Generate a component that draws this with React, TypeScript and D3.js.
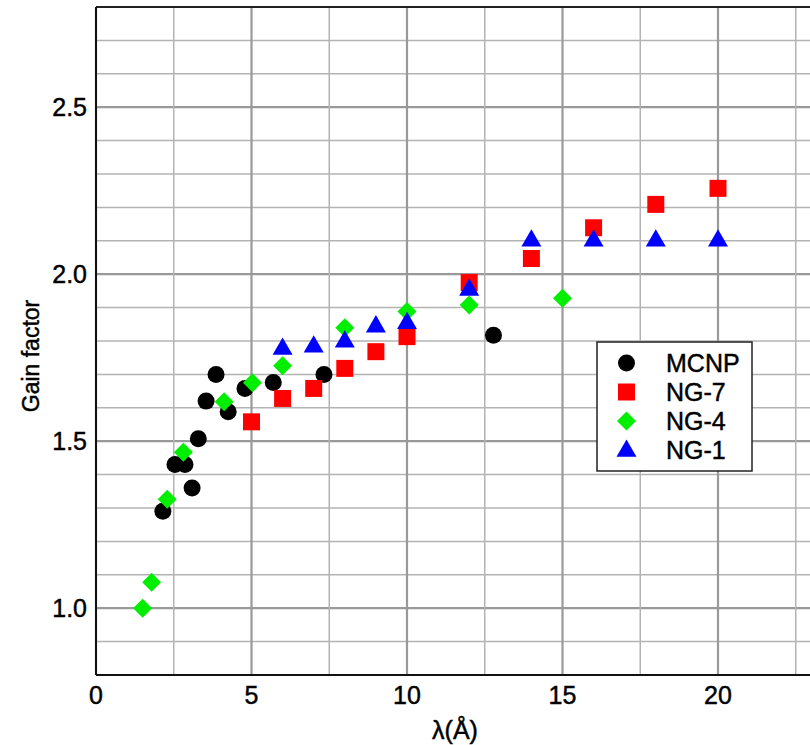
import React from "react";
import * as d3 from "d3";

const mcnpX = [2.15, 2.54, 2.86, 3.09, 3.29, 3.54, 3.86, 4.25, 4.79, 5.7, 7.33, 12.78];
const mcnpY = [1.29, 1.43, 1.43, 1.36, 1.507, 1.62, 1.70, 1.588, 1.658, 1.676, 1.70, 1.817];

const ng7X = [5, 6, 7, 8, 9, 10, 12, 14, 16, 18, 20];
const ng7Y = [1.558, 1.628, 1.658, 1.718, 1.768, 1.813, 1.975, 2.047, 2.139, 2.209, 2.257];

const ng4X = [1.5, 1.79, 2.29, 2.81, 4.12, 5.03, 6.0, 8.0, 10.0, 12.0, 15.0];
const ng4Y = [1.0, 1.078, 1.326, 1.467, 1.618, 1.675, 1.726, 1.84, 1.888, 1.908, 1.928];

const ng1X = [6, 7, 8, 9, 10, 12, 14, 16, 18, 20];
const ng1Y = [1.776, 1.783, 1.798, 1.843, 1.853, 1.953, 2.10, 2.10, 2.10, 2.10];

const xTicks = [0, 5, 10, 15, 20];
const yTicks = [1.0, 1.5, 2.0, 2.5];

const W = 810;
const H = 745;
const left = 96;
const top = 7;
const bottom = 675;

const x = d3.scaleLinear().domain([0, 23]).range([left, left + 23 * 31.1]);
const y = d3.scaleLinear().domain([0.8, 2.8]).range([bottom, top]);

const font = "'Liberation Sans', Arial, Helvetica, sans-serif";
// the reference text is a touch heavier than regular weight
const txt = { fontFamily: font, fill: "#000", stroke: "#000", strokeWidth: 0.45 };

const shapes: Record<string, { path: string | null; fill: string; rot: number }> = {
  MCNP: { path: d3.symbol().type(d3.symbolCircle).size(227)(), fill: "#000000", rot: 0 },
  "NG-7": { path: d3.symbol().type(d3.symbolSquare).size(289)(), fill: "#ff0000", rot: 0 },
  "NG-4": { path: d3.symbol().type(d3.symbolSquare).size(180)(), fill: "#00ee00", rot: 45 },
  "NG-1": { path: d3.symbol().type(d3.symbolTriangle).size(173)(), fill: "#0000ff", rot: 0 },
};

const series = [
  { name: "MCNP", xs: mcnpX, ys: mcnpY },
  { name: "NG-4", xs: ng4X, ys: ng4Y },
  { name: "NG-7", xs: ng7X, ys: ng7Y },
  { name: "NG-1", xs: ng1X, ys: ng1Y },
];
const legendOrder = ["MCNP", "NG-7", "NG-4", "NG-1"];

export default function App() {
  const xGrid = d3.range(0, 23.01, 2.5);
  const yGrid = d3.range(8, 29).map((v) => v / 10);
  const right = W;

  return (
    <svg width={W} height={H} style={{ position: "absolute", left: 0, top: 0, background: "#fff" }}>
      <defs>
        <clipPath id="plot">
          <rect x={left} y={top} width={right - left} height={bottom - top} />
        </clipPath>
      </defs>
      <rect width={W} height={H} fill="#fff" />

      {/* grid */}
      <g>
        {yGrid.map((v) => {
          const major = Math.abs((v * 10) % 5) < 1e-6;
          return (
            <line key={"h" + v} x1={left} x2={right} y1={y(v)} y2={y(v)}
              stroke={major ? "#999" : "#b3b3b3"} strokeWidth={major ? 2.2 : 1.5} />
          );
        })}
        {xGrid.map((v) => {
          const major = v % 5 === 0;
          return (
            <line key={"v" + v} x1={x(v)} x2={x(v)} y1={top} y2={bottom}
              stroke={major ? "#999" : "#b3b3b3"} strokeWidth={major ? 2.2 : 1.5} />
          );
        })}
      </g>

      {/* frame */}
      <line x1={left} x2={right} y1={top} y2={top} stroke="#222" strokeWidth={2} />
      <line x1={left} x2={right} y1={bottom} y2={bottom} stroke="#111" strokeWidth={2} />
      <line x1={left} x2={left} y1={top} y2={bottom} stroke="#111" strokeWidth={2} />

      {/* points */}
      <g clipPath="url(#plot)">
        {series.map((s) =>
          s.xs.map((xv, i) => (
            <path key={s.name + i} d={shapes[s.name].path || ""} fill={shapes[s.name].fill}
              transform={`translate(${x(xv)},${y(s.ys[i])}) rotate(${shapes[s.name].rot})`} />
          ))
        )}
      </g>

      {/* tick labels */}
      {xTicks.map((t) => (
        <text key={"xt" + t} x={x(t)} y={704} textAnchor="middle" fontSize={25} {...txt}>
          {t}
        </text>
      ))}
      {yTicks.map((t) => (
        <text key={"yt" + t} x={87} y={y(t) + 9} textAnchor="end" fontSize={25} {...txt}>
          {t.toFixed(1)}
        </text>
      ))}

      {/* axis titles */}
      <text x={455} y={739} textAnchor="middle" fontSize={25} {...txt}>λ(Å)</text>
      <text transform="translate(39,356) rotate(-90)" textAnchor="middle" fontSize={23} {...txt}>
        Gain factor
      </text>

      {/* legend */}
      <g>
        <rect x={597} y={342} width={155} height={129} fill="#fff" stroke="#222" strokeWidth={1.5} />
        {legendOrder.map((name, i) => (
          <g key={name} transform={`translate(0,${i * 29})`}>
            <path d={shapes[name].path || ""} fill={shapes[name].fill}
              transform={`translate(626.5,${363 + (name === "NG-1" ? 1 : 0)}) rotate(${shapes[name].rot})`} />
            <text x={666} y={372} fontSize={25} {...txt}>{name}</text>
          </g>
        ))}
      </g>
    </svg>
  );
}
